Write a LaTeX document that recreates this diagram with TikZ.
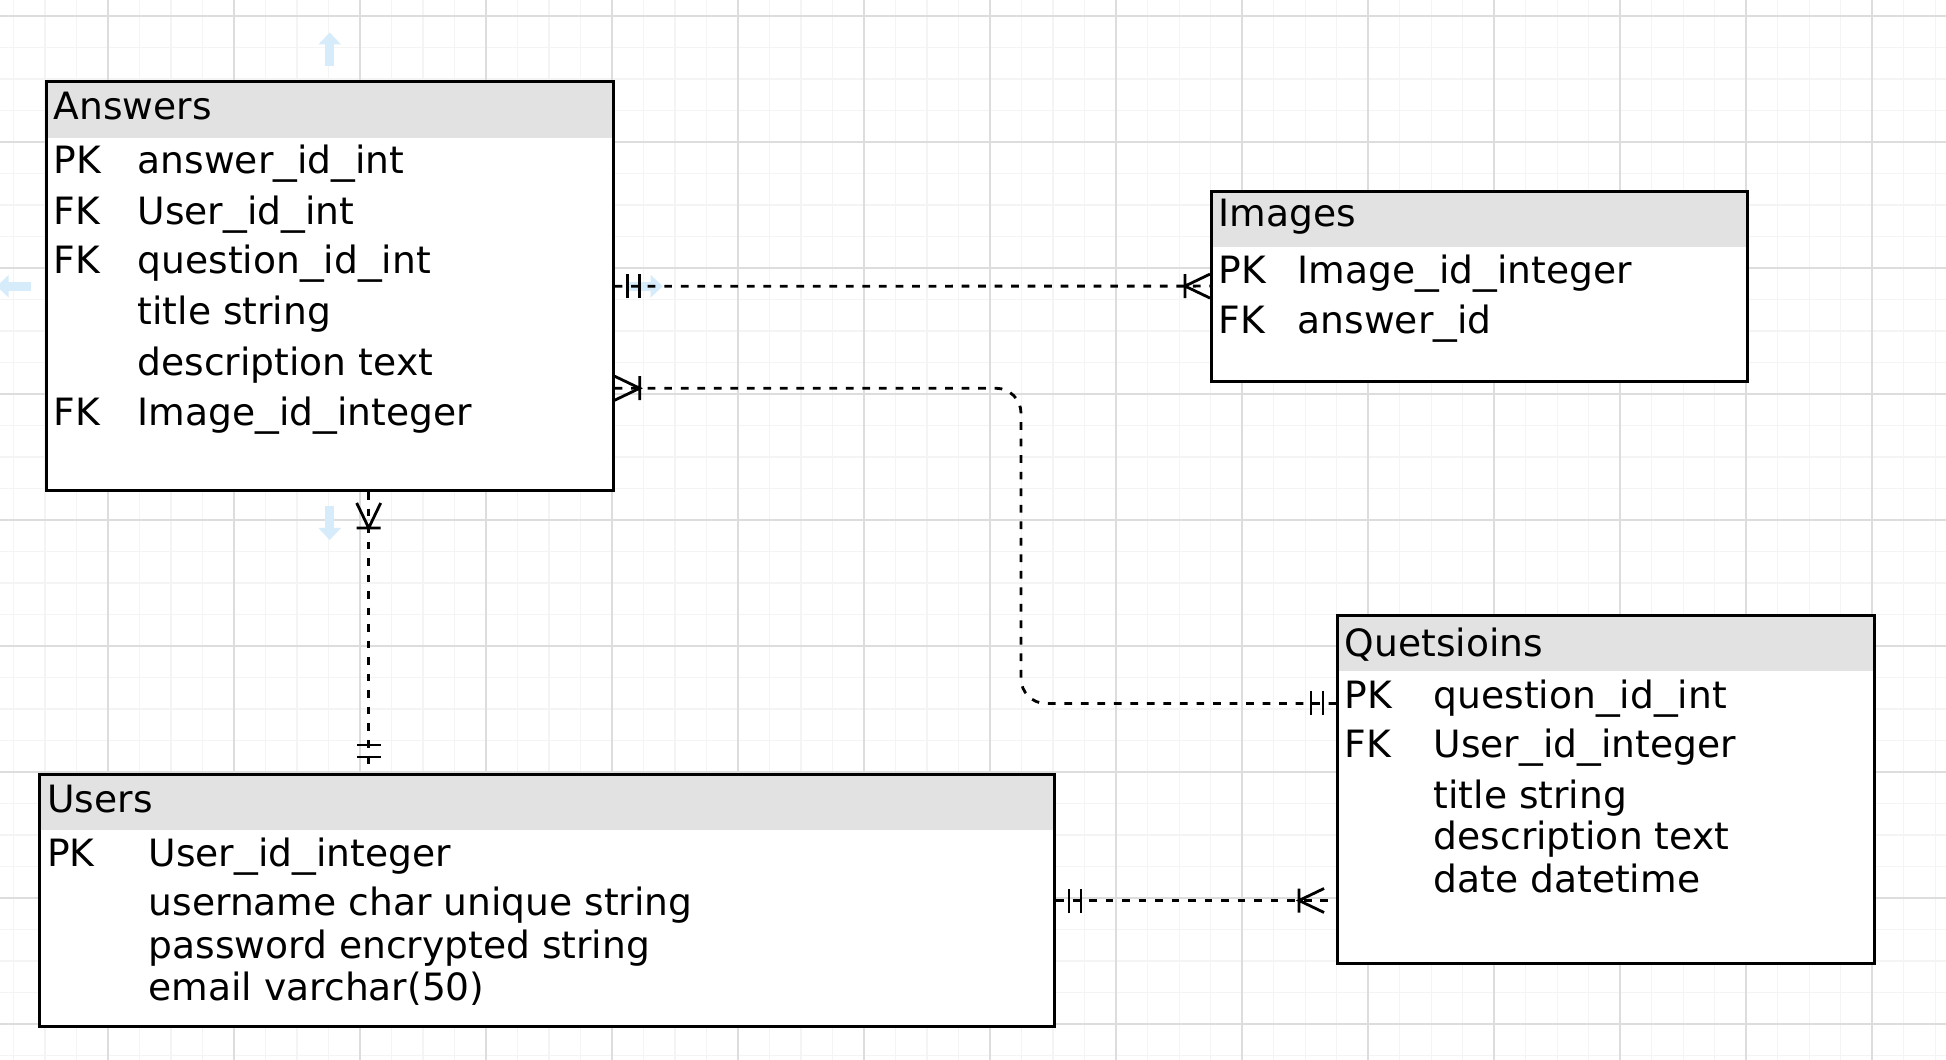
\documentclass[tikz,border=0pt]{standalone}
\usepackage{fontspec}
\usepackage{graphicx}
\setmainfont{DejaVu Sans}
\usetikzlibrary{arrows.meta,positioning,calc}
\definecolor{hdrgray}{RGB}{226,226,226}
\definecolor{gridmajor}{RGB}{221,221,221}
\definecolor{gridminor}{RGB}{244,244,244}
\definecolor{uihint}{RGB}{214,236,250}
\newcommand{\usc}{\scalebox{1.26}[1]{\_}}
\tikzset{
  >=Stealth,
  every node/.append style={font=\fontsize{10.7}{12.2}\selectfont},
}
\tikzset{
  entity/.style={draw, fill=white, line width=0.85pt, inner sep=0pt, anchor=north west,
    path picture={\fill[hdrgray] (path picture bounding box.north west) rectangle ([yshift=-0.56cm]path picture bounding box.north east);}},
  field/.style={inner sep=0pt, anchor=base west},
  rel/.style={line width=0.8pt, dash pattern=on 2.2pt off 2.5pt},
  hint/.style={uihint, line width=0.09cm, -{Triangle[width=0.22cm,length=0.12cm]}},
  pics/mandone/.style={code={\draw[line width=0.8pt] (0.13,-0.12) -- (0.13,0.12) (0.25,-0.12) -- (0.25,0.12);}},
  pics/onemany/.style={code={\draw[line width=0.8pt] (0,0.12) -- (0.25,0) -- (0,-0.12) (0.25,0.12) -- (0.25,-0.12);}}
}
\begin{document}
\begin{tikzpicture}

\useasboundingbox (0,0) rectangle (19.46,-10.60);
\fill[white] (0,0) rectangle (19.46,-10.60);
\clip (0,0) rectangle (19.46,-10.60);

% Grid
\foreach \i in {0,...,62}
  \draw[gridminor, line width=0.3pt] ({-0.18+0.315*\i},0) -- ({-0.18+0.315*\i},-10.6);
\foreach \j in {0,...,34}
  \draw[gridminor, line width=0.3pt] (0,{-0.16-0.315*\j}) -- (19.46,{-0.16-0.315*\j});
\foreach \i in {0,...,16}
  \draw[gridmajor, line width=0.4pt] ({-0.18+1.26*\i},0) -- ({-0.18+1.26*\i},-10.6);
\foreach \j in {0,...,8}
  \draw[gridmajor, line width=0.4pt] (0,{-0.16-1.26*\j}) -- (19.46,{-0.16-1.26*\j});

% Tables
\node[entity, minimum width=5.67cm, minimum height=4.085cm] (answers) at (0.447,-0.805) {};
\node[entity, minimum width=5.36cm, minimum height=1.90cm] (images) at (12.10,-1.896) {};
\node[entity, minimum width=5.37cm, minimum height=3.48cm] (quest) at (13.36,-6.14) {};
\node[entity, minimum width=10.15cm, minimum height=2.52cm] (users) at (0.38,-7.73) {};

% Answers
\node[field] (ans-title) at (0.53,-1.20) {Answers};
\node[field] (ans-k1) at (0.53,-1.74) {PK};
\node[field] (ans-f1) at (1.37,-1.74) {answer\usc id\usc int};
\node[field] (ans-k2) at (0.53,-2.25) {FK};
\node[field] (ans-f2) at (1.37,-2.25) {User\usc id\usc int};
\node[field] (ans-k3) at (0.53,-2.74) {FK};
\node[field] (ans-f3) at (1.37,-2.74) {question\usc id\usc int};
\node[field] (ans-f4) at (1.37,-3.25) {title string};
\node[field] (ans-f5) at (1.37,-3.75) {description text};
\node[field] (ans-k6) at (0.53,-4.25) {FK};
\node[field] (ans-f6) at (1.37,-4.25) {Image\usc id\usc integer};

% Images
\node[field] (img-title) at (12.18,-2.27) {Images};
\node[field] (img-k1) at (12.18,-2.836) {PK};
\node[field] (img-f1) at (12.97,-2.836) {Image\usc id\usc integer};
\node[field] (img-k2) at (12.18,-3.336) {FK};
\node[field] (img-f2) at (12.97,-3.336) {answer\usc id};

% Quetsioins
\node[field] (qst-title) at (13.44,-6.56) {Quetsioins};
\node[field] (qst-k1) at (13.44,-7.08) {PK};
\node[field] (qst-f1) at (14.33,-7.08) {question\usc id\usc int};
\node[field] (qst-k2) at (13.44,-7.57) {FK};
\node[field] (qst-f2) at (14.33,-7.57) {User\usc id\usc integer};
\node[field] (qst-f3) at (14.33,-8.08) {title string};
\node[field] (qst-f4) at (14.33,-8.49) {description text};
\node[field] (qst-f5) at (14.33,-8.92) {date datetime};

% Users
\node[field] (usr-title) at (0.466,-8.12) {Users};
\node[field] (usr-k1) at (0.466,-8.66) {PK};
\node[field] (usr-f1) at (1.48,-8.66) {User\usc id\usc integer};
\node[field] (usr-f2) at (1.48,-9.15) {username char unique string};
\node[field] (usr-f3) at (1.48,-9.58) {password encrypted string};
\node[field] (usr-f4) at (1.48,-10.00) {email varchar(50)};

% Selection hints round Answers
\draw[hint] ([yshift=0.14cm]answers.north) -- ([yshift=0.48cm]answers.north);
\draw[hint] ([yshift=-0.14cm]answers.south) -- ([yshift=-0.48cm]answers.south);
\draw[hint] ([xshift=-0.14cm]answers.west) -- ([xshift=-0.48cm]answers.west);
\draw[hint] ([xshift=0.14cm]answers.east) -- ([xshift=0.48cm]answers.east);

% Answers -- Images
\draw[rel] (answers.east) -- (images.west);
\pic at (answers.east) {mandone};
\pic[rotate=180] at (images.west) {onemany};

% Answers -- Quetsioins
\coordinate (aq) at ([yshift=-1.02cm]answers.east);
\coordinate (qa) at ([yshift=0.86cm]quest.west);
\draw[rel, rounded corners=0.25cm] (aq) -| ([xshift=-3.15cm]qa) -- (qa);
\pic at (aq) {onemany};
\pic[rotate=180] at (qa) {mandone};

% Answers -- Users
\coordinate (au) at ([xshift=0.39cm]answers.south);
\draw[rel] (au) -- (au |- users.north);
\pic[rotate=-90] at ([yshift=-0.11cm]au) {onemany};
\pic[rotate=90] at ([yshift=0.03cm]au |- users.north) {mandone};

% Users -- Quetsioins
\draw[rel] (users.east) -- (quest.west |- users.east);
\pic at (users.east) {mandone};
\pic[rotate=180] at ([xshift=-0.12cm]quest.west |- users.east) {onemany};

\end{tikzpicture}
\end{document}
